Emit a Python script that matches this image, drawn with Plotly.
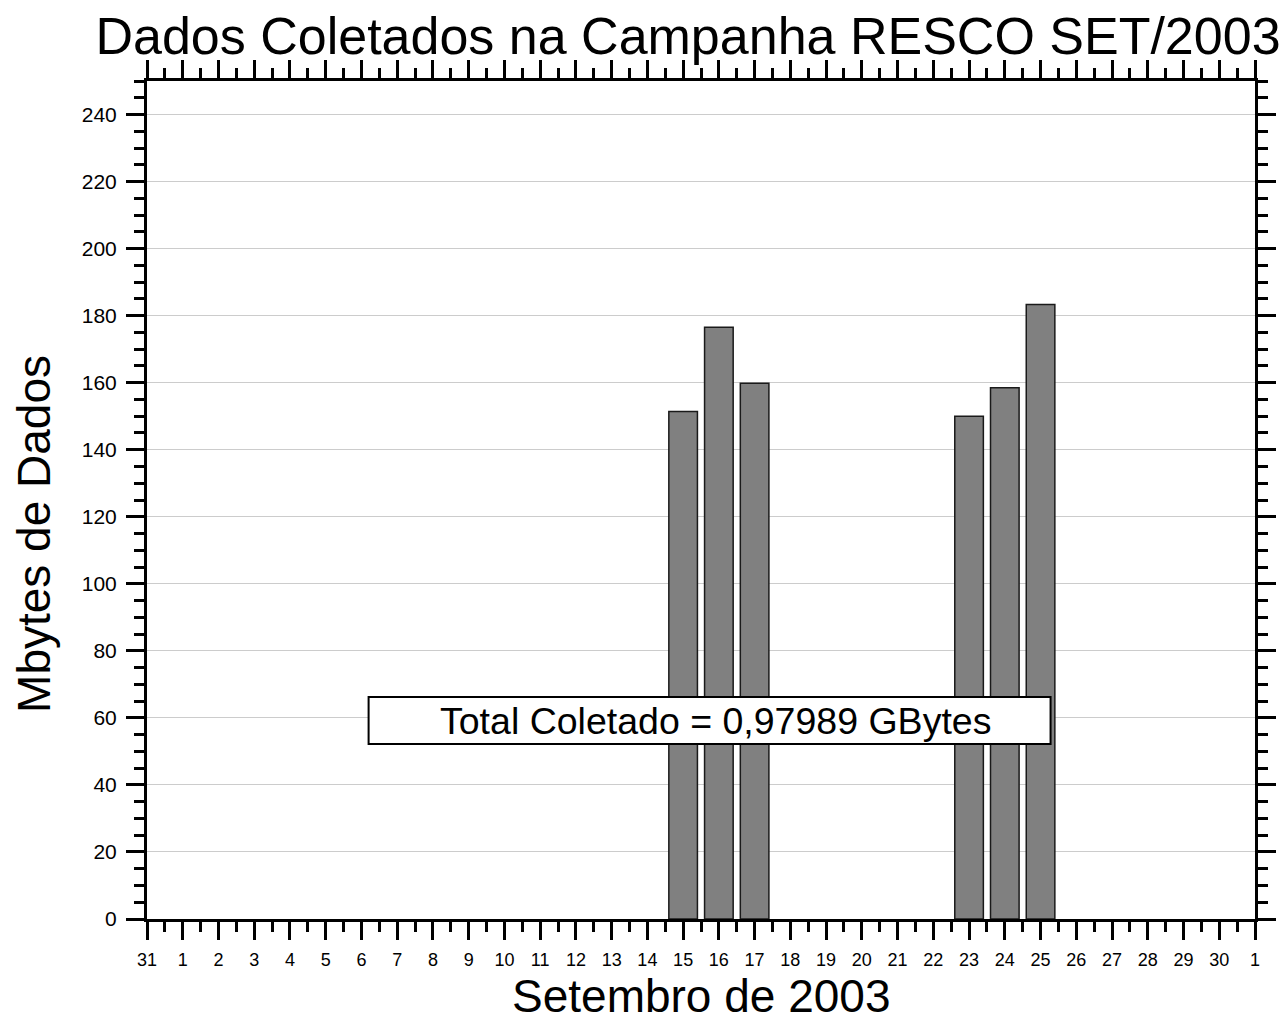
import plotly.graph_objects as go

# Data
days = [15, 16, 17, 23, 24, 25]  # day of September (0 = 31 Aug, 31 = 1 Oct)
mbytes = [151.4, 176.5, 159.8, 150.0, 158.5, 183.3]
tick_positions = list(range(0, 32))
tick_labels = ["31"] + [str(d) for d in range(1, 31)] + ["1"]
title_text = "Dados Coletados na Campanha RESCO SET/2003"
x_title = "Setembro de 2003"
y_title = "Mbytes de Dados"
note_text = "Total Coletado = 0,97989 GBytes"

FONT = "Arial, 'Liberation Sans', sans-serif"

fig = go.Figure()
fig.add_trace(go.Bar(
    x=days, y=mbytes, width=0.8,
    marker=dict(color="#808080", line=dict(color="#1a1a1a", width=1.5)),
    showlegend=False,
))

axis_common = dict(
    showline=True, linecolor="black", linewidth=3, mirror="allticks",
    ticks="outside", ticklen=18, tickwidth=2.5, tickcolor="black",
    zeroline=False,
)

fig.update_xaxes(
    range=[0, 31], tickmode="array", tickvals=tick_positions, ticktext=tick_labels,
    showgrid=False, ticklabelstandoff=4,
    tickfont=dict(family=FONT, size=18, color="black"),
    minor=dict(tickmode="array", tickvals=[p + 0.5 for p in tick_positions[:-1]],
               ticks="outside", ticklen=10, tickwidth=2.5, tickcolor="black"),
    **axis_common,
)
fig.update_yaxes(
    range=[0, 250], tick0=0, dtick=20,
    showgrid=True, gridcolor="#cccccc", gridwidth=1.3,
    ticklabelstandoff=5,
    tickfont=dict(family=FONT, size=21, color="black"),
    minor=dict(tick0=0, dtick=5, ticks="outside", ticklen=10, tickwidth=2.5,
               tickcolor="black", showgrid=False),
    **axis_common,
)

# Axis titles as annotations for exact placement
fig.add_annotation(x=0, y=0.4595, xref="paper", yref="paper", text=y_title, showarrow=False,
                   textangle=-90, xanchor="center", yanchor="middle", xshift=-113,
                   font=dict(family=FONT, size=46, color="black"))
fig.add_annotation(x=0.5, y=0, xref="paper", yref="paper", text=x_title, showarrow=False,
                   xanchor="center", yanchor="middle", yshift=-77,
                   font=dict(family=FONT, size=46, color="black"))

# Annotation box
fig.add_shape(type="rect", xref="x", yref="y", x0=6.2, x1=25.28, y0=52.2, y1=66.2,
              fillcolor="white", line=dict(color="black", width=2), layer="above")
fig.add_annotation(x=15.9, y=59.2, xref="x", yref="y", text=note_text, showarrow=False,
                   font=dict(family=FONT, size=37.5, color="black"))

fig.update_layout(
    width=1280, height=1013,
    margin=dict(l=139, r=30, t=73, b=102),
    paper_bgcolor="white", plot_bgcolor="white",
    title=dict(text=title_text, x=(688 - 8) / 1280, xanchor="center", xref="container",
               y=1 - 28 / 1013, yanchor="middle", yref="container",
               font=dict(family=FONT, size=52, color="black")),
)

fig.write_html("out.html")
